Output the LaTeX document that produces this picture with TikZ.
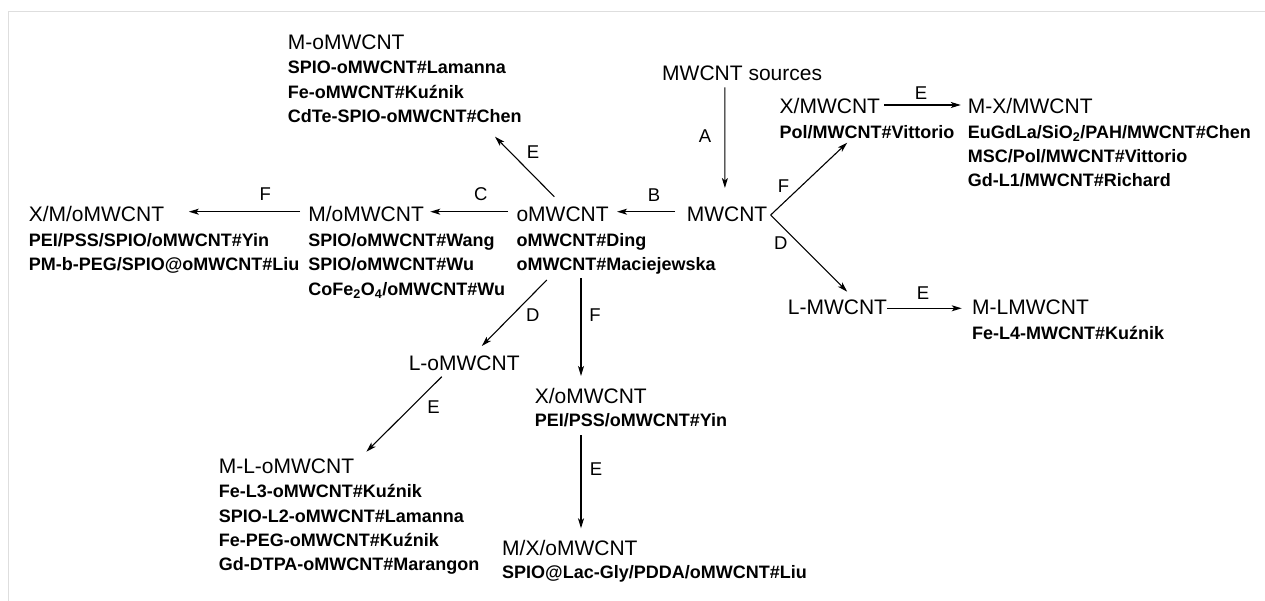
\documentclass[tikz,border=0pt]{standalone}
\usepackage{fontspec}
\setmainfont{Liberation Sans}
\usetikzlibrary{arrows.meta}
\tikzset{
  ttl/.style={anchor=base west, inner sep=0pt, font=\fontsize{21}{25}\selectfont},
  lst/.style={anchor=base west, inner sep=0pt, font=\fontsize{18}{24.3}\selectfont\bfseries},
  lbl/.style={inner sep=0pt, font=\fontsize{18.5}{22}\selectfont},
  arr/.style={line width=1.1pt, -{Stealth[length=10pt,width=6pt,inset=2.5pt]}},
  frame/.style={draw=black!13, line width=1.5pt},
}
\newcommand{\lines}[1]{\begin{tabular}[t]{@{}l@{}}#1\end{tabular}}
\begin{document}
\begin{tikzpicture}[x=1pt,y=-1pt]
\useasboundingbox (0,0) rectangle (1265,601);
\draw[frame] (8.5,601) -- (8.5,11.5) -- (1265,11.5);

% titles
\node[ttl] (src)   at (662,80.7)   {MWCNT sources};
\node[ttl] (mw)    at (686.6,221.7) {MWCNT};
\node[ttl] (xmw)   at (779.5,113.3) {X/MWCNT};
\node[ttl] (mxmw)  at (967.6,113.3) {M-X/MWCNT};
\node[ttl] (lmw)   at (787.7,315)   {L-MWCNT};
\node[ttl] (mlmw)  at (972,315)     {M-LMWCNT};
\node[ttl] (omw)   at (516.3,221.7) {oMWCNT};
\node[ttl] (momw)  at (308.2,221.7) {M/oMWCNT};
\node[ttl] (xmomw) at (28.6,221.7)  {X/M/oMWCNT};
\node[ttl] (mdomw) at (287.7,49.3)  {M-oMWCNT};
\node[ttl] (lomw)  at (408.6,370)   {L-oMWCNT};
\node[ttl] (xomw)  at (534.6,403.3) {X/oMWCNT};
\node[ttl] (mlomw) at (218.6,473.3) {M-L-oMWCNT};
\node[ttl] (mxomw) at (502,555.5)   {M/X/oMWCNT};

% lists
\node[lst] (xmwL)   at (779.5,138.3) {\lines{Pol/MWCNT\#Vittorio}};
\node[lst] (mxmwL)  at (967.6,138.3) {\lines{EuGdLa/SiO\textsubscript{2}/PAH/MWCNT\#Chen\\MSC/Pol/MWCNT\#Vittorio\\Gd-L1/MWCNT\#Richard}};
\node[lst] (mlmwL)  at (972,339.5)   {\lines{Fe-L4-MWCNT\#Kuźnik}};
\node[lst] (omwL)   at (516.3,246.7) {\lines{oMWCNT\#Ding\\oMWCNT\#Maciejewska}};
\node[lst] (momwL)  at (308.2,246.7) {\lines{SPIO/oMWCNT\#Wang\\SPIO/oMWCNT\#Wu\\CoFe\textsubscript{2}O\textsubscript{4}/oMWCNT\#Wu}};
\node[lst] (xmomwL) at (28.6,246.7)  {\lines{PEI/PSS/SPIO/oMWCNT\#Yin\\PM-b-PEG/SPIO@oMWCNT\#Liu}};
\node[lst] (mdomwL) at (287.7,74)    {\lines{SPIO-oMWCNT\#Lamanna\\Fe-oMWCNT\#Kuźnik\\CdTe-SPIO-oMWCNT\#Chen}};
\node[lst] (xomwL)  at (534.6,426.7) {\lines{PEI/PSS/oMWCNT\#Yin}};
\node[lst] (mlomwL) at (218.6,497.7) {\lines{Fe-L3-oMWCNT\#Kuźnik\\SPIO-L2-oMWCNT\#Lamanna\\Fe-PEG-oMWCNT\#Kuźnik\\Gd-DTPA-oMWCNT\#Marangon}};
\node[lst] (mxomwL) at (502,578)     {\lines{SPIO@Lac-Gly/PDDA/oMWCNT\#Liu}};

% connectors
\draw[arr] ([shift={(62.9,6.6)}]src.base west) -- ([shift={(38.3,-33.7)}]mw.base west);
\draw[arr] ([shift={(-11.6,-10)}]mw.base west) -- ([shift={(8.2,-10)}]omw.base east);
\draw[arr] ([shift={(-8.1,-10)}]omw.base west) -- ([shift={(6.2,-10)}]momw.base east);
\draw[arr] ([shift={(-8.2,-10)}]momw.base west) -- ([shift={(24.5,-10)}]xmomw.base east);
\draw[arr] ([shift={(38,-25)}]omw.base west) -- ([shift={(207.3,87.4)}]mdomw.base west);
\coordinate (vx) at ([shift={(3.2,-6.7)}]mw.base east);
\draw[arr] (vx) -- ([shift={(67.7,29.4)}]xmw.base west);
\draw[arr] (vx) -- ([shift={(59.5,-23.3)}]lmw.base west);
\draw[arr] ([shift={(3.9,-8.3)}]xmw.base east) -- ([shift={(-6.8,-8.3)}]mxmw.base west);
\draw[arr] ([shift={(0,-6.7)}]lmw.base east) -- ([shift={(-10.3,-6.7)}]mlmw.base west);
\draw[arr] ([shift={(30.5,33.3)}]omwL.base west) -- ([shift={(73.2,-24)}]lomw.base west);
\draw[arr] ([shift={(64.7,31.6)}]omwL.base west) -- ([shift={(46.4,-27.3)}]xomw.base west);
\draw[arr] ([shift={(33.2,6.7)}]lomw.base west) -- ([shift={(147.8,-21.6)}]mlomw.base west);
\draw[arr] ([shift={(46.4,8.3)}]xomwL.base west) -- ([shift={(79,-27.2)}]mxomw.base west);

% labels
\node[lbl] (lA)  at (705,136)   {A};
\node[lbl] (lB)  at (654,195)   {B};
\node[lbl] (lC)  at (480.8,194) {C};
\node[lbl] (lF1) at (265.3,194) {F};
\node[lbl] (lE1) at (533,152)   {E};
\node[lbl] (lF2) at (783.5,186) {F};
\node[lbl] (lD1) at (780.7,242.7) {D};
\node[lbl] (lE2) at (921,93)    {E};
\node[lbl] (lE3) at (923,293)   {E};
\node[lbl] (lD2) at (532.9,315) {D};
\node[lbl] (lF3) at (595,315)   {F};
\node[lbl] (lE4) at (433.6,406.7) {E};
\node[lbl] (lE5) at (596,469)   {E};
\end{tikzpicture}
\end{document}
